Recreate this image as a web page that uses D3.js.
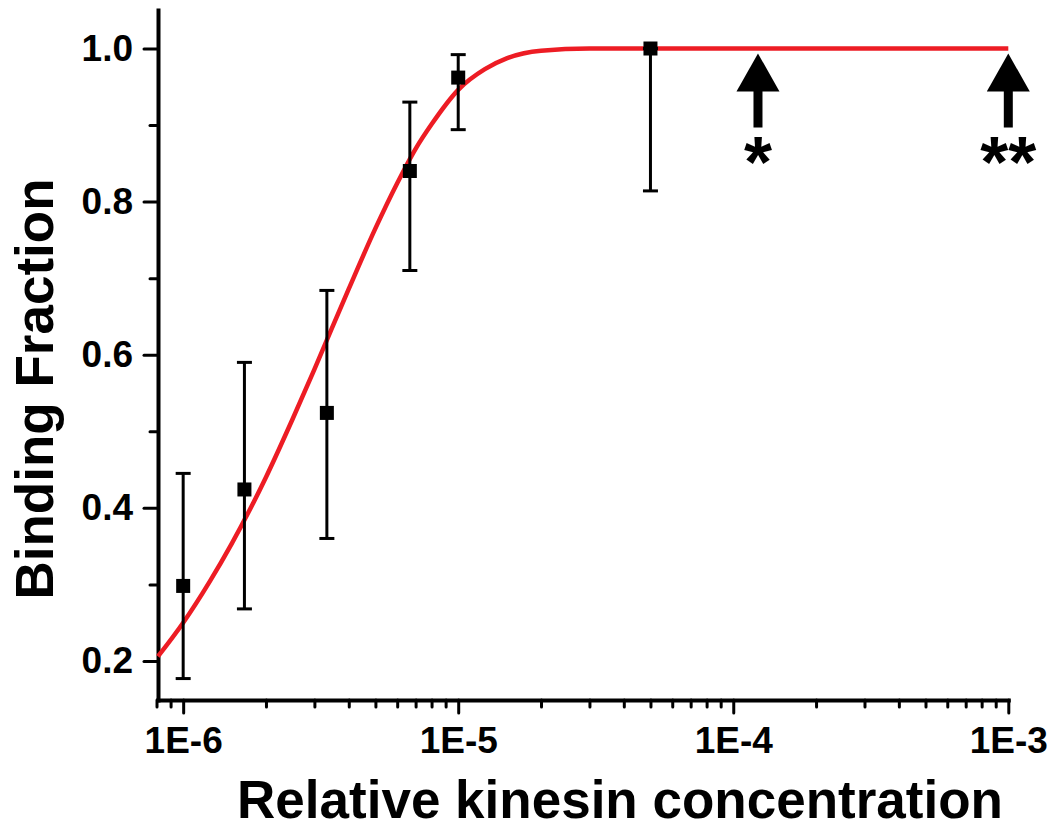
<!DOCTYPE html>
<html>
<head>
<meta charset="utf-8">
<script src="https://cdn.jsdelivr.net/npm/d3@7"></script>
<style>
  body { margin: 0; background: #fff; }
  svg text { font-family: "Liberation Sans", Arial, sans-serif; font-weight: bold; fill: #000; }
  .axis path, .axis line { stroke: #000; }
</style>
</head>
<body>
<div id="chart"></div>
<script>
// measured points (relative kinesin concentration vs binding fraction)
const conc = [1e-6, 1.67e-6, 3.33e-6, 6.67e-6, 1e-5, 5e-5];
const frac = [0.298, 0.424, 0.524, 0.840, 0.962, 1.0];
const errHigh = [0.445, 0.590, 0.684, 0.930, 0.992, 1.0];
const errLow = [0.177, 0.268, 0.360, 0.710, 0.894, 0.814];

// red fit curve
const curveX = [8.1e-7, 1e-6, 1.25e-6, 1.5e-6, 2e-6, 2.5e-6, 3e-6, 4e-6, 5e-6, 6e-6, 7e-6, 8e-6, 1e-5, 1.25e-5, 1.5e-5, 2e-5, 3e-5, 5e-5, 1e-4, 1e-3];
const curveY = [0.206, 0.25, 0.304, 0.353, 0.44, 0.516, 0.581, 0.686, 0.765, 0.824, 0.869, 0.901, 0.946, 0.973, 0.987, 0.997, 1.0, 1.0, 1.0, 1.0];

// arrows with asterisks
const arrowConc = [1.23e-4, 1e-3];
const arrowLabels = ['*', '**'];

// ticks
const xMajor = [1e-6, 1e-5, 1e-4, 1e-3];
const xMajorLabels = ['1E-6', '1E-5', '1E-4', '1E-3'];
const yMajor = [0.2, 0.4, 0.6, 0.8, 1.0];
const yMinor = [0.3, 0.5, 0.7, 0.9];

const W = 1054, H = 828;
const svg = d3.select('#chart').append('svg')
  .attr('width', W)
  .attr('height', H);

const x = d3.scaleLog().domain([8.1e-7, 1e-3]).range([158, 1008.3]);
const y = d3.scaleLinear().domain([0.149, 1.0503]).range([700, 10]);

const xMinor = [];
[1e-7, 1e-6, 1e-5, 1e-4].forEach(dec => {
  for (let k = 2; k <= 9; k++) {
    const v = dec * k;
    if (v >= 7.9e-7 && v < 1e-3) xMinor.push(v);
  }
});

// minor ticks first
svg.append('g')
  .attr('class', 'axis')
  .attr('transform', `translate(0, ${y.range()[0]})`)
  .call(d3.axisBottom(x).tickValues(xMinor).tickSize(7).tickSizeOuter(0).tickFormat(''))
  .call(g => g.select('.domain').remove())
  .call(g => g.selectAll('line').attr('stroke-width', 3).attr('stroke-linecap', 'round'));

svg.append('g')
  .attr('class', 'axis')
  .attr('transform', `translate(${x.range()[0]}, 0)`)
  .call(d3.axisLeft(y).tickValues(yMinor).tickSize(8).tickSizeOuter(0).tickFormat(''))
  .call(g => g.select('.domain').remove())
  .call(g => g.selectAll('line').attr('stroke-width', 3).attr('stroke-linecap', 'round'));

// major axes
const xAxis = svg.append('g')
  .attr('class', 'axis')
  .attr('transform', `translate(0, ${y.range()[0]})`)
  .call(d3.axisBottom(x).tickValues(xMajor).tickSize(13).tickSizeOuter(0).tickPadding(14)
    .tickFormat((d, i) => xMajorLabels[i]));
xAxis.select('.domain').attr('stroke-width', 4).attr('stroke-linecap', 'square');
xAxis.selectAll('line').attr('stroke-width', 3).attr('stroke-linecap', 'round');
xAxis.selectAll('text').style('font-size', '37px');

const yAxis = svg.append('g')
  .attr('class', 'axis')
  .attr('transform', `translate(${x.range()[0]}, 0)`)
  .call(d3.axisLeft(y).tickValues(yMajor).tickSize(14).tickSizeOuter(0).tickPadding(11)
    .tickFormat(d3.format('.1f')));
yAxis.select('.domain').attr('stroke-width', 4).attr('stroke-linecap', 'square');
yAxis.selectAll('line').attr('stroke-width', 3).attr('stroke-linecap', 'round');
yAxis.selectAll('text').style('font-size', '37px');

// axis titles
svg.append('text')
  .attr('x', 620)
  .attr('y', 818)
  .attr('text-anchor', 'middle')
  .style('font-size', '53px')
  .text('Relative kinesin concentration');

svg.append('text')
  .attr('transform', 'translate(53, 389) rotate(-90)')
  .attr('text-anchor', 'middle')
  .style('font-size', '53px')
  .text('Binding Fraction');

// fit curve
const line = d3.line()
  .x((d, i) => x(curveX[i]))
  .y(d => y(d))
  .curve(d3.curveMonotoneX);
svg.append('path')
  .datum(curveY)
  .attr('d', line)
  .attr('fill', 'none')
  .attr('stroke', '#ed1c24')
  .attr('stroke-width', 4.5);

// error bars
const eb = svg.append('g').attr('stroke', '#000').attr('stroke-width', 3);
conc.forEach((c, i) => {
  const cx = x(c);
  eb.append('line').attr('x1', cx).attr('x2', cx).attr('y1', y(errHigh[i])).attr('y2', y(errLow[i]));
  [errHigh[i], errLow[i]].forEach(v => {
    eb.append('line').attr('x1', cx - 7.5).attr('x2', cx + 7.5).attr('y1', y(v)).attr('y2', y(v));
  });
});

// markers
const sz = 14;
svg.selectAll('rect.pt')
  .data(frac)
  .enter()
  .append('rect')
  .attr('class', 'pt')
  .attr('x', (d, i) => x(conc[i]) - sz / 2)
  .attr('y', d => y(d) - sz / 2)
  .attr('width', sz)
  .attr('height', sz)
  .attr('fill', '#000');

// arrows
const tipY = y(1.0) + 5;
arrowConc.forEach((c, i) => {
  const ax = x(c);
  const g = svg.append('g');
  g.append('path')
    .attr('d', `M${ax},${tipY} L${ax + 21.5},${tipY + 38} L${ax - 21.5},${tipY + 38} Z`)
    .attr('fill', '#000');
  g.append('rect')
    .attr('x', ax - 4.5)
    .attr('y', tipY + 36)
    .attr('width', 9)
    .attr('height', 38)
    .attr('fill', '#000');
  g.append('text')
    .attr('x', ax)
    .attr('y', tipY + 133)
    .attr('text-anchor', 'middle')
    .style('font-size', '72px')
    .text(arrowLabels[i]);
});
</script>
</body>
</html>
